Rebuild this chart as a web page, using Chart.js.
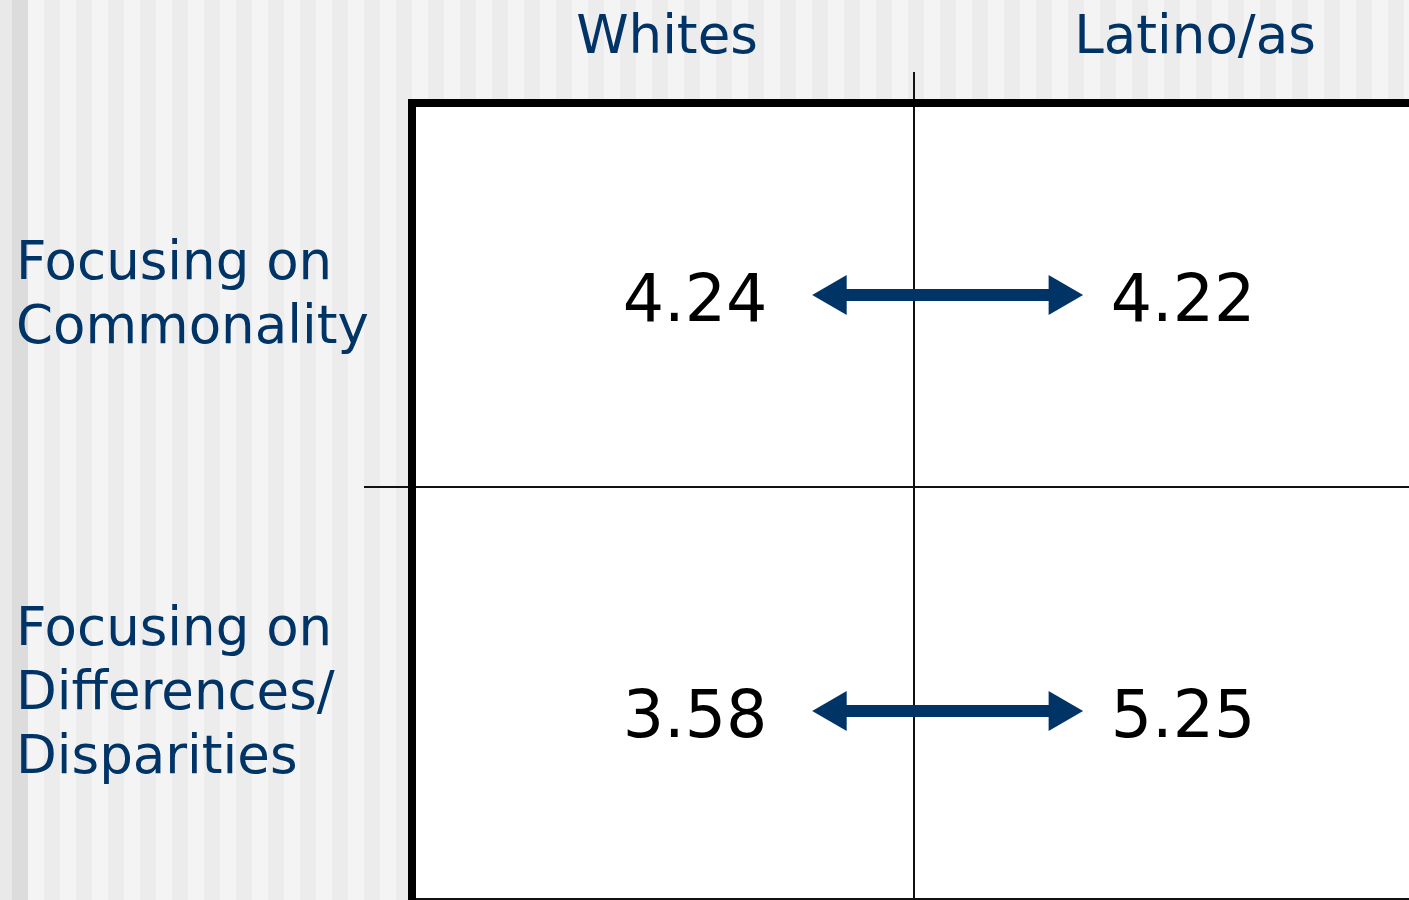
<!DOCTYPE html>
<html>
<head>
<meta charset="utf-8">
<title>Commonality vs differences</title>
<script src="https://cdn.jsdelivr.net/npm/chart.js@4.4.1/dist/chart.umd.min.js"></script>
<style>
    html, body { margin: 0; padding: 0; overflow: hidden; }
    body {
        width: 1409px; height: 900px;
        background:
            linear-gradient(to right, #e9e9e9 0 12px, #dcdcdc 12px 28px, transparent 28px),
            repeating-linear-gradient(to right, #f4f4f4 0 12px, #ececec 12px 28px, #f4f4f4 28px 32px);
    }
    canvas { display: block; }
</style>
</head>
<body>
<canvas id="matrix" width="1409" height="900"></canvas>
<script>
var columns = ['Whites', 'Latino/as'];
var rows = [['Focusing on', 'Commonality'], ['Focusing on', 'Differences/', 'Disparities']];
var whites = [4.24, 3.58];
var latinos = [4.22, 5.25];
// arrow-head centres in column units (0 = Whites, 1 = Latino/as)
var arrowFrom = [0.343, 0.343];
var arrowTo = [0.791, 0.791];

var NAVY = '#003366';
var FONT = '"DejaVu Sans", Verdana, sans-serif';

// table edges + inner rule, in axis units (table runs off the right/bottom of the slide)
var xEdges = [-0.5, 0.5, 1.486];
var yEdges = [-0.4615, 0.4615, 1.452];
var headerNudge = [4, 30];
var valueNudge = [32, 18];

var matrixText = {
    id: 'matrixText',
    beforeDraw: function (chart) {
        var a = chart.chartArea, ctx = chart.ctx;
        ctx.save();
        ctx.fillStyle = '#ffffff';
        ctx.fillRect(a.left, a.top, a.right - a.left, a.bottom - a.top);
        ctx.restore();
    },
    afterDraw: function (chart) {
        var ctx = chart.ctx, xs = chart.scales.x, ys = chart.scales.y;
        ctx.save();
        ctx.textBaseline = 'alphabetic';

        ctx.font = '53px ' + FONT;
        ctx.fillStyle = NAVY;
        ctx.textAlign = 'center';
        columns.forEach(function (c, i) {
            ctx.fillText(c, xs.getPixelForValue(i) + headerNudge[i], ys.top - 50);
        });

        ctx.textAlign = 'left';
        rows.forEach(function (lines, i) {
            var mid = (ys.getPixelForValue(yEdges[i]) + ys.getPixelForValue(yEdges[i + 1])) / 2;
            var first = mid - (lines.length - 1) * 64 / 2 + 16;
            lines.forEach(function (t, k) { ctx.fillText(t, 16, first + k * 64); });
        });

        ctx.font = '65px ' + FONT;
        ctx.fillStyle = '#000000';
        ctx.textAlign = 'center';
        [whites, latinos].forEach(function (vals, col) {
            vals.forEach(function (v, row) {
                ctx.fillText(v.toFixed(2), xs.getPixelForValue(col) + valueNudge[col], ys.getPixelForValue(row) + 26);
            });
        });
        ctx.restore();
    }
};

var datasets = rows.map(function (r, i) {
    return {
        label: r.join(' '),
        data: [{ x: arrowFrom[i], y: i }, { x: arrowTo[i], y: i }],
        showLine: true,
        borderColor: NAVY,
        borderWidth: 12,
        borderCapStyle: 'butt',
        pointStyle: 'triangle',
        pointRadius: 23,
        pointHoverRadius: 23,
        pointRotation: [-90, 90],
        pointBackgroundColor: NAVY,
        pointBorderColor: NAVY,
        pointBorderWidth: 0
    };
});

new Chart(document.getElementById('matrix'), {
    type: 'scatter',
    data: { datasets: datasets },
    options: {
        responsive: false, animation: false, devicePixelRatio: 1,
        layout: { autoPadding: false, padding: { left: 0, top: 0, right: 0, bottom: 1 } },
        plugins: { legend: { display: false }, tooltip: { enabled: false } },
        events: [],
        scales: {
            x: {
                type: 'linear', position: 'top', min: xEdges[0], max: xEdges[2],
                afterFit: function (s) { s.height = 103; },
                afterBuildTicks: function (s) { s.ticks = [{ value: xEdges[1] }]; },
                ticks: { display: false },
                grid: { color: '#111', lineWidth: 2, tickLength: 31, tickColor: '#111' },
                border: { display: true, color: '#000', width: 8 }
            },
            y: {
                type: 'linear', position: 'left', reverse: true, min: yEdges[0], max: yEdges[2],
                afterFit: function (s) { s.width = 412; },
                afterBuildTicks: function (s) { s.ticks = [{ value: yEdges[1] }, { value: yEdges[2] }]; },
                ticks: { display: false },
                grid: {
                    color: '#111', lineWidth: 2, tickLength: 48,
                    tickColor: function (c) { return c.index === 0 ? '#111' : 'rgba(0,0,0,0)'; }
                },
                border: { display: true, color: '#000', width: 8 }
            }
        }
    },
    plugins: [matrixText]
});
</script>
</body>
</html>
